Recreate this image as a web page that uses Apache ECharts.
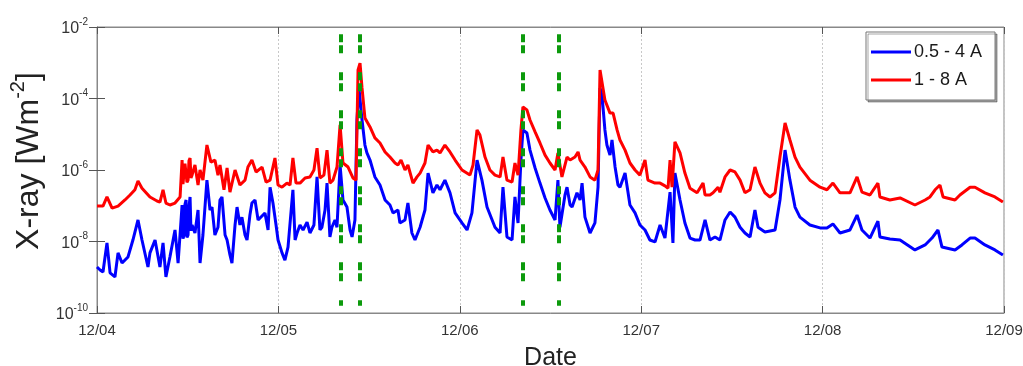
<!DOCTYPE html>
<html>
<head>
<meta charset="utf-8">
<script src="https://cdn.jsdelivr.net/npm/echarts@6/dist/echarts.min.js"></script>
<style>
html,body{margin:0;padding:0;background:#fff;}
#chart{width:1023px;height:366px;}
</style>
</head>
<body>
<div id="chart"></div>
<script>
// x: days since 12/04 00:00, y: X-ray flux [W m^-2]
const dateLabels = ['12/04', '12/05', '12/06', '12/07', '12/08', '12/09'];
const legendNames = ['0.5 - 4 A', '1 - 8 A'];
const eventDays = [1.342, 1.447, 2.348, 2.547];

const flux05to4 = [
  [0.000,1.94e-9],[0.017,1.6e-9],[0.033,1.4e-9],[0.055,9.1e-9],[0.072,1.32e-9],[0.099,1.02e-9],
  [0.116,4.8e-9],[0.138,2.5e-9],[0.171,3.7e-9],[0.198,1.1e-8],[0.226,4.0e-8],[0.248,1.1e-8],
  [0.281,1.94e-9],[0.292,4.8e-9],[0.320,1.1e-8],[0.347,1.94e-9],[0.364,9.1e-9],[0.380,1.02e-9],
  [0.402,3.7e-9],[0.430,2.1e-8],[0.447,2.5e-9],[0.469,1.05e-7],[0.474,1.2e-8],[0.480,1.52e-8],[0.485,1.1e-7],[0.491,1.45e-7],
  [0.496,1.3e-8],[0.502,1.52e-8],[0.507,9.0e-8],[0.513,1.76e-7],[0.518,2.0e-8],[0.524,2.9e-8],[0.540,1.73e-8],[0.557,7.6e-8],[0.568,2.5e-9],
  [0.584,1.52e-8],[0.606,5.2e-7],[0.623,7.6e-8],[0.634,9.2e-8],[0.650,1.52e-8],[0.667,2.5e-8],
  [0.678,1.45e-7],[0.689,1.76e-7],[0.706,1.52e-8],[0.717,1.1e-8],[0.733,4.2e-9],[0.744,2.5e-9],
  [0.761,2.9e-8],[0.772,9.2e-8],[0.788,2.9e-8],[0.799,4.8e-8],[0.816,1.52e-8],[0.827,1.1e-8],
  [0.843,5.5e-8],[0.854,1.19e-7],[0.871,1.45e-7],[0.888,4.0e-8],[0.899,4.0e-8],[0.926,6.3e-8],
  [0.943,2.1e-8],[0.954,3.3e-7],[0.970,1.19e-7],[0.987,2.9e-8],[0.998,1.1e-8],[1.020,4.8e-9],
  [1.036,3.0e-9],[1.053,7.0e-9],[1.064,7.0e-9],[1.080,2.8e-7],[1.092,1.1e-8],[1.103,1.73e-8],
  [1.119,2.9e-8],[1.136,2.1e-8],[1.158,3.5e-8],[1.174,1.73e-8],[1.196,2.9e-8],[1.213,6.4e-7],
  [1.229,2.1e-8],[1.240,2.5e-8],[1.257,7.6e-8],[1.268,4.3e-7],[1.284,1.34e-8],[1.295,2.5e-8],
  [1.312,4.0e-8],[1.323,2.5e-8],[1.340,1.38e-6],[1.356,1.45e-7],[1.378,9.2e-8],[1.395,2.1e-8],
  [1.406,1.34e-8],[1.422,4.0e-8],[1.433,2.5e-5],[1.444,1.97e-4],[1.461,2.5e-5],[1.477,5.0e-6],
  [1.488,3.0e-6],[1.505,1.9e-6],[1.532,6.4e-7],[1.560,3.8e-7],[1.588,1.45e-7],[1.615,1.05e-7],
  [1.632,6.3e-8],[1.659,7.6e-8],[1.670,3.3e-8],[1.698,4.0e-8],[1.714,1.19e-7],[1.736,1.73e-8],
  [1.753,1.1e-8],[1.781,2.5e-8],[1.808,7.6e-8],[1.825,8.2e-7],[1.852,2.3e-7],[1.874,3.8e-7],
  [1.891,2.8e-7],[1.918,5.2e-7],[1.946,2.3e-7],[1.974,6.3e-8],[2.012,3.3e-8],[2.040,2.1e-8],
  [2.067,6.3e-8],[2.095,1.9e-6],[2.122,5.2e-7],[2.150,9.2e-8],[2.194,2.5e-8],[2.222,1.73e-8],
  [2.238,3.3e-7],[2.260,1.34e-8],[2.288,1.1e-8],[2.304,1.76e-7],[2.321,3.3e-8],[2.337,1.9e-6],
  [2.348,1.32e-5],[2.370,1.08e-5],[2.387,3.6e-6],[2.415,1.14e-6],[2.442,4.3e-7],[2.470,1.65e-7],
  [2.497,7.6e-8],[2.525,4.0e-8],[2.541,5.2e-7],[2.552,2.5e-8],[2.580,2.0e-7],[2.591,3.3e-7],
  [2.608,1.05e-7],[2.619,9.2e-8],[2.646,2.3e-7],[2.663,1.45e-7],[2.674,4.3e-7],[2.690,4.8e-8],
  [2.718,1.73e-8],[2.745,3.3e-8],[2.762,3.3e-7],[2.773,1.97e-4],[2.784,1.25e-4],[2.800,1.32e-5],
  [2.811,5.0e-6],[2.828,2.6e-6],[2.839,6.9e-6],[2.856,1.21e-6],[2.872,3.8e-7],[2.883,3.3e-7],
  [2.911,8.2e-7],[2.938,1.05e-7],[2.966,6.3e-8],[2.993,2.9e-8],[3.021,2.1e-8],[3.048,1.1e-8],
  [3.076,9.7e-9],[3.104,2.9e-8],[3.131,1.25e-8],[3.159,2.4e-7],[3.175,9.1e-9],[3.186,8.2e-7],
  [3.214,1.45e-7],[3.241,3.3e-8],[3.269,1.25e-8],[3.297,1.1e-8],[3.324,1.1e-8],[3.352,4.0e-8],
  [3.379,1.1e-8],[3.407,1.34e-8],[3.434,1.1e-8],[3.462,4.0e-8],[3.490,6.7e-8],[3.517,4.8e-8],
  [3.545,2.5e-8],[3.572,1.73e-8],[3.600,1.34e-8],[3.627,7.6e-8],[3.644,2.5e-8],[3.682,1.85e-8],
  [3.738,2.1e-8],[3.765,1.45e-7],[3.793,3.6e-6],[3.820,5.2e-7],[3.848,9.2e-8],[3.875,4.8e-8],
  [3.930,2.9e-8],[3.986,2.4e-8],[4.024,2.4e-8],[4.057,3.1e-8],[4.096,1.73e-8],[4.151,2.1e-8],
  [4.190,5.5e-8],[4.217,2.1e-8],[4.261,1.25e-8],[4.305,3.7e-8],[4.316,1.34e-8],[4.371,1.17e-8],
  [4.427,1.1e-8],[4.509,5.8e-9],[4.565,8.0e-9],[4.603,1.25e-8],[4.636,2.1e-8],[4.658,7.0e-9],
  [4.730,5.8e-9],[4.768,8.0e-9],[4.813,1.25e-8],[4.840,1.25e-8],[4.895,8.0e-9],[4.950,5.8e-9],
  [4.994,4.2e-9]
];

const flux1to8 = [
  [0.000,9.8e-8],[0.033,9.8e-8],[0.055,1.76e-7],[0.083,8.6e-8],[0.116,9.8e-8],[0.154,1.45e-7],
  [0.182,2.0e-7],[0.209,2.8e-7],[0.226,4.9e-7],[0.248,3.1e-7],[0.292,1.76e-7],[0.331,1.36e-7],
  [0.347,1.27e-7],[0.364,2.8e-7],[0.380,1.19e-7],[0.402,1.05e-7],[0.430,1.19e-7],[0.458,1.76e-7],
  [0.469,1.9e-6],[0.474,4.0e-7],[0.480,3.8e-7],[0.485,1.5e-6],[0.491,1.67e-6],[0.496,4.5e-7],[0.502,5.2e-7],[0.507,1.8e-6],[0.513,2.17e-6],[0.518,6.0e-7],[0.524,7.2e-7],
  [0.540,1.38e-6],[0.557,3.8e-7],[0.568,1.0e-6],[0.584,5.2e-7],[0.606,5.0e-6],[0.628,1.67e-6],
  [0.650,1.9e-6],[0.667,7.2e-7],[0.678,1.38e-6],[0.700,2.8e-7],[0.717,1.14e-6],[0.733,2.4e-7],
  [0.761,1.0e-6],[0.788,3.8e-7],[0.816,5.2e-7],[0.832,1.21e-6],[0.854,1.9e-6],[0.877,8.8e-7],
  [0.910,1.21e-6],[0.932,4.6e-7],[0.954,5.2e-7],[0.981,2.17e-6],[0.998,3.8e-7],[1.020,3.3e-7],
  [1.047,4.3e-7],[1.064,3.8e-7],[1.080,2.17e-6],[1.097,4.3e-7],[1.119,4.3e-7],[1.147,6.0e-7],
  [1.174,6.4e-7],[1.196,1.0e-6],[1.213,4.1e-6],[1.229,6.0e-7],[1.251,7.2e-7],[1.268,3.6e-6],
  [1.284,4.3e-7],[1.301,5.2e-7],[1.323,1.21e-6],[1.340,1.82e-5],[1.356,1.57e-6],[1.384,1.21e-6],
  [1.411,6.0e-7],[1.428,5.2e-7],[1.439,6.3e-4],[1.450,9.8e-4],[1.461,1.97e-4],[1.477,2.85e-5],
  [1.505,1.6e-5],[1.532,7.9e-6],[1.560,5.7e-6],[1.588,3.2e-6],[1.615,2.3e-6],[1.643,1.57e-6],
  [1.659,1.38e-6],[1.676,1.9e-6],[1.698,1.0e-6],[1.714,1.38e-6],[1.742,4.3e-7],[1.764,6.4e-7],
  [1.781,8.2e-7],[1.808,1.57e-6],[1.825,5.0e-6],[1.852,3.2e-6],[1.874,3.6e-6],[1.891,3.0e-6],
  [1.918,5.0e-6],[1.946,3.2e-6],[1.974,1.9e-6],[2.012,1.0e-6],[2.056,7.2e-7],[2.073,1.38e-6],
  [2.095,1.32e-5],[2.111,9.5e-6],[2.139,2.3e-6],[2.166,1.0e-6],[2.194,7.2e-7],[2.222,6.4e-7],
  [2.238,2.3e-6],[2.260,5.2e-7],[2.288,4.6e-7],[2.304,1.57e-6],[2.321,7.2e-7],[2.337,1.32e-5],
  [2.348,5.8e-5],[2.370,4.8e-5],[2.387,2.5e-5],[2.415,1.16e-5],[2.442,5.7e-6],[2.470,2.6e-6],
  [2.497,1.57e-6],[2.525,1.0e-6],[2.541,3.0e-6],[2.563,6.4e-7],[2.591,2.3e-6],[2.608,1.9e-6],
  [2.635,2.3e-6],[2.652,3.2e-6],[2.663,1.9e-6],[2.690,1.21e-6],[2.718,6.4e-7],[2.745,5.2e-7],
  [2.762,1.0e-6],[2.773,6.3e-4],[2.784,6.3e-4],[2.800,9.1e-5],[2.828,3.9e-5],[2.845,3.9e-5],
  [2.867,1.32e-5],[2.883,6.9e-6],[2.911,3.6e-6],[2.938,1.57e-6],[2.966,1.0e-6],[2.993,7.2e-7],
  [3.021,1.9e-6],[3.037,5.2e-7],[3.076,4.3e-7],[3.104,4.3e-7],[3.131,3.6e-7],[3.148,3.1e-7],
  [3.159,1.9e-6],[3.170,3.3e-7],[3.186,6.1e-6],[3.214,3.0e-6],[3.241,8.2e-7],[3.269,3.1e-7],
  [3.308,2.3e-7],[3.341,4.3e-7],[3.352,2.0e-7],[3.379,2.0e-7],[3.396,2.3e-7],[3.424,3.3e-7],
  [3.434,2.4e-7],[3.462,6.4e-7],[3.490,1.0e-6],[3.517,8.8e-7],[3.545,5.2e-7],[3.572,2.3e-7],
  [3.600,2.8e-7],[3.627,1.21e-6],[3.655,4.3e-7],[3.682,2.3e-7],[3.710,1.76e-7],[3.738,2.3e-7],
  [3.765,2.3e-6],[3.793,2.07e-5],[3.820,6.9e-6],[3.848,2.3e-6],[3.875,1.21e-6],[3.930,5.2e-7],
  [3.986,3.3e-7],[4.024,2.8e-7],[4.057,4.3e-7],[4.096,2.3e-7],[4.151,2.3e-7],[4.190,6.4e-7],
  [4.217,2.4e-7],[4.261,2.0e-7],[4.305,4.3e-7],[4.316,1.76e-7],[4.371,1.45e-7],[4.427,1.65e-7],
  [4.509,1.05e-7],[4.565,1.45e-7],[4.592,1.76e-7],[4.620,2.8e-7],[4.647,3.8e-7],[4.664,1.76e-7],
  [4.730,1.45e-7],[4.757,2.0e-7],[4.813,3.3e-7],[4.840,3.3e-7],[4.895,2.3e-7],[4.950,1.76e-7],
  [4.994,1.27e-7]
];

const chart = echarts.init(document.getElementById('chart'), null, {renderer: 'canvas'});
const FONT = 'Liberation Sans, Arial, sans-serif';
const yLabelFmt = v => '{b|10}{s|' + Math.round(Math.log10(v)) + '}';

const option = {
  animation: false,
  backgroundColor: '#ffffff',
  textStyle: {fontFamily: FONT},
  grid: {left: 97, right: 19, top: 27, bottom: 53, outerBoundsMode: 'none', containLabel: false,
    show: true, borderColor: '#888', borderWidth: 1, backgroundColor: '#fff'},
  legend: {
    data: legendNames,
    orient: 'vertical',
    left: 866, top: 32,
    padding: [11, 13, 11, 5],
    itemGap: 10,
    itemWidth: 40, itemHeight: 3,
    icon: 'rect',
    backgroundColor: '#fff',
    borderColor: '#777', borderWidth: 1,
    shadowColor: 'rgba(0,0,0,0.35)', shadowOffsetX: 2, shadowOffsetY: 2, shadowBlur: 0,
    textStyle: {fontSize: 18, color: '#1a1a1a', fontFamily: FONT, padding: [0, 0, 0, -2]}
  },
  xAxis: [{
    type: 'value', min: 0, max: 5, interval: 1,
    name: 'Date', nameLocation: 'middle', nameGap: 33,
    nameTextStyle: {fontSize: 25, color: '#222', fontFamily: FONT},
    axisLine: {show: true, lineStyle: {color: '#888', width: 1}},
    axisTick: {show: true, inside: true, length: 7, lineStyle: {color: '#555'}},
    axisLabel: {show: true, fontSize: 15, color: '#333', margin: 10, showMinLabel: true, showMaxLabel: true,
      formatter: v => dateLabels[Math.round(v)]},
    splitLine: {show: true, lineStyle: {color: '#c8c8c8', type: [2, 2], width: 1}}
  }, {
    type: 'value', min: 0, max: 5, interval: 1, position: 'top',
    axisLine: {show: true, lineStyle: {color: '#888'}},
    axisTick: {show: true, inside: true, length: 7, lineStyle: {color: '#555'}},
    axisLabel: {show: false}, splitLine: {show: false}
  }],
  yAxis: [{
    type: 'log', logBase: 10, min: 1e-10, max: 1e-2, interval: 2,
    name: '{n|X-ray [Wm}{s|-2}{n|]}', nameLocation: 'middle', nameGap: 47,
    nameTextStyle: {fontFamily: FONT, color: '#222', padding: [0, 0, 0, 18],
      rich: {n: {fontSize: 32, color: '#222', fontFamily: FONT, lineHeight: 36, verticalAlign: 'bottom'},
             s: {fontSize: 20, color: '#222', fontFamily: FONT, lineHeight: 36, verticalAlign: 'top', padding: [0, 0, 10, 0]}}},
    axisLine: {show: true, lineStyle: {color: '#888', width: 1}},
    axisTick: {show: true, inside: true, length: 8, lineStyle: {color: '#555'}},
    axisLabel: {show: true, margin: 9, formatter: yLabelFmt, color: '#333',
      rich: {b: {fontSize: 16, color: '#333', fontFamily: FONT, lineHeight: 20, verticalAlign: 'bottom'},
             s: {fontSize: 10, color: '#333', fontFamily: FONT, lineHeight: 20, verticalAlign: 'top', padding: [0, 0, 8, 0]}}},
    splitLine: {show: false}
  }, {
    type: 'log', logBase: 10, min: 1e-10, max: 1e-2, interval: 2, position: 'right',
    axisLine: {show: true, lineStyle: {color: '#888'}},
    axisTick: {show: true, inside: true, length: 8, lineStyle: {color: '#555'}},
    axisLabel: {show: false}, splitLine: {show: false}
  }],
  series: [{
    name: legendNames[0], type: 'line', data: flux05to4, showSymbol: false, symbol: 'none',
    lineStyle: {color: '#0000ff', width: 3}, itemStyle: {color: '#0000ff'}, z: 2
  }, {
    name: legendNames[1], type: 'line', data: flux1to8, showSymbol: false, symbol: 'none',
    lineStyle: {color: '#ff0000', width: 3}, itemStyle: {color: '#ff0000'}, z: 3,
    markLine: {
      silent: true, symbol: 'none', label: {show: false},
      lineStyle: {color: '#0c9a0c', width: 4, type: [8, 3, 8, 19], opacity: 1},
      data: eventDays.map(d => [{coord: [d, 6.3e-3]}, {coord: [d, 1.6e-10]}])
    }
  }]
};
chart.setOption(option);
</script>
</body>
</html>
